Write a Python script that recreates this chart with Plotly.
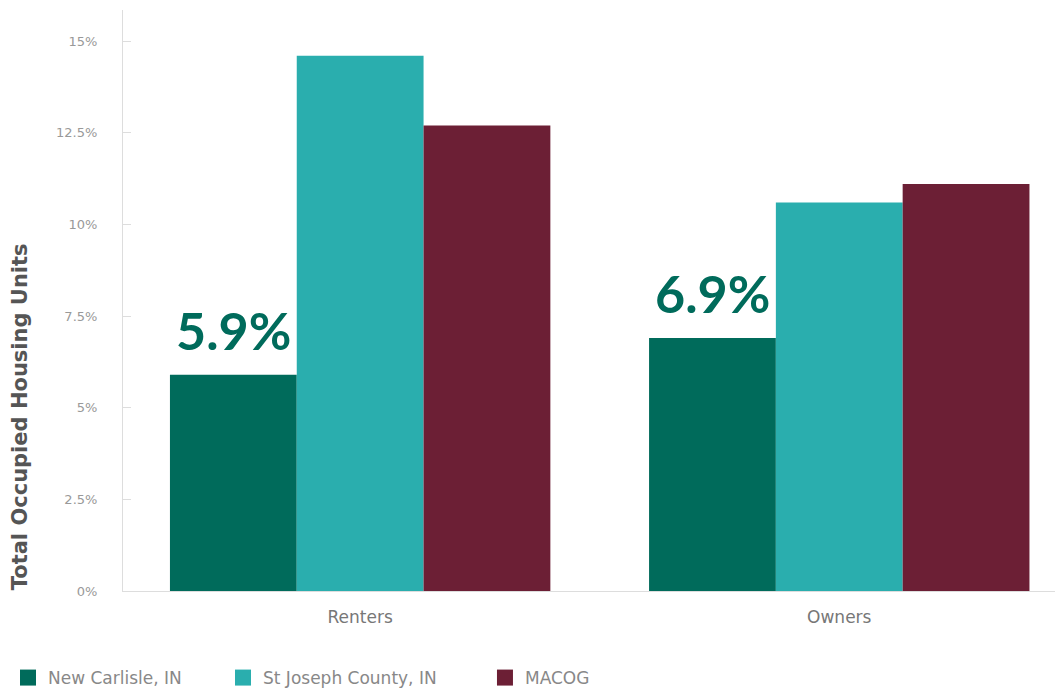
import plotly.graph_objects as go

categories = ["Renters", "Owners"]
series_names = ["New Carlisle, IN", "St Joseph County, IN", "MACOG"]
new_carlisle = [5.9, 6.9]
st_joseph = [14.6, 10.6]
macog = [12.7, 11.1]
highlight_labels = ["5.9%", "6.9%"]
tick_vals = [0, 2.5, 5, 7.5, 10, 12.5, 15]
tick_text = ["0%", "2.5%", "5%", "7.5%", "10%", "12.5%", "15%"]
y_title = "Total Occupied Housing Units"
colors = ["#006B5B", "#2AAEAE", "#6C1F35"]

series = [new_carlisle, st_joseph, macog]
txt_font = "DejaVu Sans"
legend_ids = ["legend", "legend2", "legend3"]
legend_x = [0.0, 0.2038, 0.4521]

fig = go.Figure()
for name, vals, col in zip(series_names, series, colors):
    fig.add_trace(go.Bar(x=categories, y=vals, name=name, marker_color=col,
                         marker_line_width=0, showlegend=False))
# legend swatches (larger squares), one legend per entry for exact spacing
for name, col, lid in zip(series_names, colors, legend_ids):
    fig.add_trace(go.Scatter(x=[None], y=[None], mode="markers", name=name, legend=lid,
                             marker=dict(symbol="square", size=24, color=col)))

# highlight labels above the New Carlisle bars
for cat, val, lab in zip(categories, new_carlisle, highlight_labels):
    fig.add_annotation(x=cat, y=val, text=lab, showarrow=False, xshift=-127,
                       yanchor="bottom", yshift=12,
                       font=dict(family="Lato", size=52, color=colors[0], weight="bold"))

# y-axis title
fig.add_annotation(xref="paper", yref="paper", x=-0.110, y=0.30, text=y_title,
                   textangle=-90, showarrow=False, xanchor="center", yanchor="middle",
                   font=dict(family=txt_font, size=21, color="#555555", weight="bold"))

legend_style = dict(
    orientation="h", xref="container", yref="container", xanchor="left",
    y=0.019, yanchor="middle", itemsizing="trace",
    font=dict(size=17, color="#888888", family=txt_font),
)

fig.update_layout(
    width=1055, height=683,
    margin=dict(l=115, r=0, t=2, b=100),
    paper_bgcolor="white", plot_bgcolor="white",
    barmode="group", bargap=0.206, bargroupgap=0,
    font=dict(family=txt_font, color="#888888"),
    legend=dict(x=legend_x[0], **legend_style),
    legend2=dict(x=legend_x[1], **legend_style),
    legend3=dict(x=legend_x[2], **legend_style),
    xaxis=dict(
        range=[-0.495, 1.467], showgrid=False, showline=True, linecolor="#DDDDDD",
        linewidth=1, ticks="", ticklabelstandoff=11,
        tickfont=dict(size=17, color="#777777", family=txt_font),
    ),
    yaxis=dict(
        range=[0, 15.85], tickvals=tick_vals, ticktext=tick_text, showgrid=False,
        showline=True, linecolor="#DDDDDD", linewidth=1, ticks="inside",
        ticklen=8, tickcolor="#DDDDDD", ticklabelstandoff=22,
        tickfont=dict(size=13, color="#999999", family=txt_font), zeroline=False,
        automargin=False,
    ),
)

fig.write_html("out.html")
